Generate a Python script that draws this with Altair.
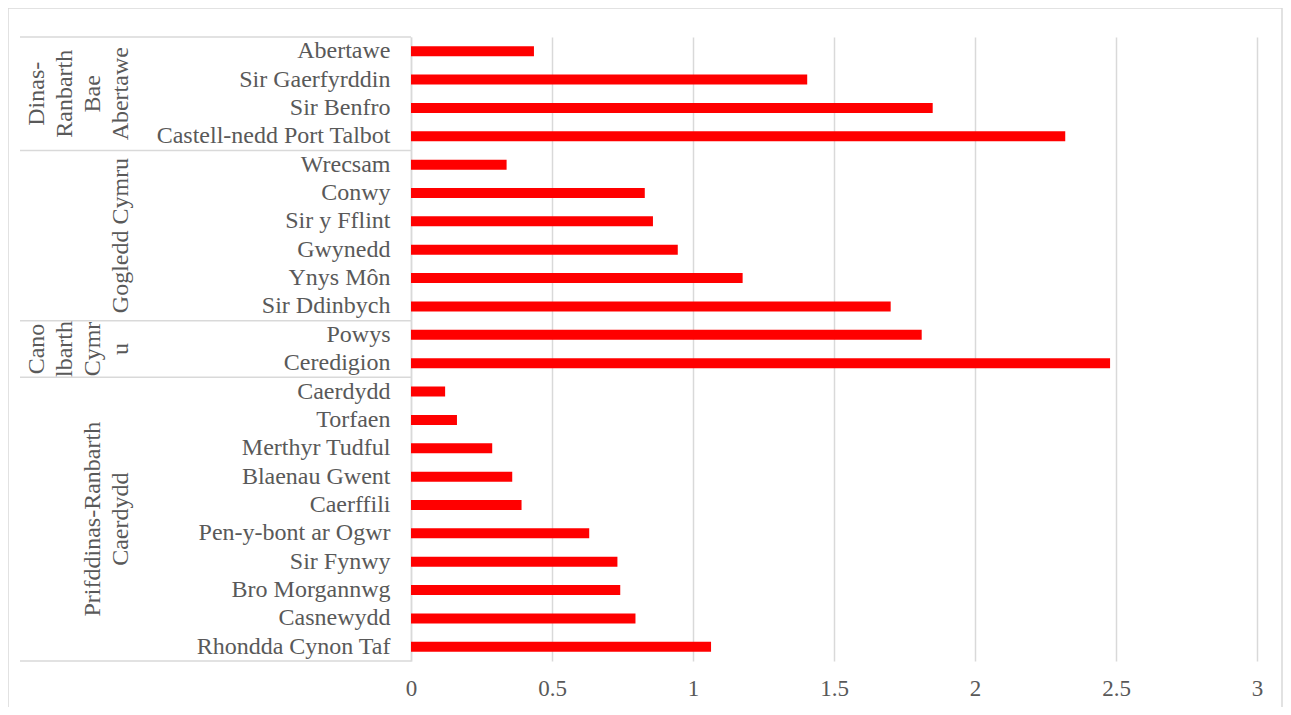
import altair as alt
import pandas as pd

categories = ["Abertawe", "Sir Gaerfyrddin", "Sir Benfro", "Castell-nedd Port Talbot",
              "Wrecsam", "Conwy", "Sir y Fflint", "Gwynedd", "Ynys Môn", "Sir Ddinbych",
              "Powys", "Ceredigion",
              "Caerdydd", "Torfaen", "Merthyr Tudful", "Blaenau Gwent", "Caerffili",
              "Pen-y-bont ar Ogwr", "Sir Fynwy", "Bro Morgannwg", "Casnewydd", "Rhondda Cynon Taf"]
values = [0.436, 1.405, 1.85, 2.32,
          0.339, 0.829, 0.858, 0.946, 1.176, 1.701,
          1.811, 2.479,
          0.121, 0.163, 0.288, 0.359, 0.392, 0.632, 0.732, 0.742, 0.796, 1.064]
group_lines = [["Dinas-", "Ranbarth", "Bae", "Abertawe"],
               ["Gogledd Cymru"],
               ["Cano", "lbarth", "Cymr", "u"],
               ["Prifddinas-Ranbarth", "Caerdydd"]]
group_sizes = [4, 6, 2, 10]
x_ticks = [0, 0.5, 1, 1.5, 2, 2.5, 3]

FONT = "Liberation Serif"
GRAY = "#595959"
LINE = "#d9d9d9"

bars_df = pd.DataFrame({"category": categories, "value": values})

bounds = [0]
for s in group_sizes:
    bounds.append(bounds[-1] + s)
rows = []
for i, lines in enumerate(group_lines):
    mid = (bounds[i] + bounds[i + 1]) / 2
    nl = len(lines)
    for j, t in enumerate(lines):
        rows.append({"mid": mid, "col": nl - 1 - j, "text": t})
groups_df = pd.DataFrame(rows)
bounds_df = pd.DataFrame({"b": bounds})
frame_df = pd.DataFrame({"k": [0]})

n = len(categories)
yq = alt.Scale(domain=[0, n], reverse=True, nice=False, zero=False)

frame = alt.Chart(frame_df).mark_rect(fillOpacity=0, stroke=LINE, strokeWidth=1.5).encode(
    x=alt.value(-403), x2=alt.value(871), y=alt.value(-29), y2=alt.value(720)
)

bars = alt.Chart(bars_df).mark_bar(color="#ff0000", size=10).encode(
    y=alt.Y("category:N", sort=categories,
            axis=alt.Axis(title=None, labelFont=FONT, labelFontSize=24, labelColor=GRAY,
                          labelPadding=21, ticks=False, domainColor=LINE, domainWidth=1.5,
                          labelLimit=0)),
    x=alt.X("value:Q", scale=alt.Scale(domain=[0, 3], nice=False),
            axis=alt.Axis(values=x_ticks, format="~g", title=None, grid=True, gridColor=LINE,
                          gridWidth=1.5, domain=False, ticks=False, labelFont=FONT,
                          labelFontSize=23, labelColor=GRAY, labelPadding=16,
                          labelFlush=False, labelOverlap=False)),
)

seps = alt.Chart(bounds_df).mark_rule(color=LINE, strokeWidth=1.5).encode(
    y=alt.Y("b:Q", scale=yq, axis=None),
    x=alt.value(-391), x2=alt.value(0),
)

glabels = alt.Chart(groups_df).mark_text(
    angle=270, align="center", baseline="bottom",
    font=FONT, fontSize=24, color=GRAY
).encode(
    y=alt.Y("mid:Q", scale=yq, axis=None),
    x=alt.X("col:Q", scale=alt.Scale(domain=[0, 3], range=[-278, -362], nice=False, zero=False),
            axis=None),
    text="text:N",
)

chart = alt.layer(frame, bars, seps, glabels).resolve_scale(
    y="independent", x="independent"
).properties(
    width=846, height=624,
    padding={"left": 403, "top": 29, "right": 26, "bottom": 46},
    autosize=alt.AutoSizeParams(type="none"),
).configure_view(stroke=None)

chart.save("out.html", embed_options={"renderer": "svg", "actions": False})
